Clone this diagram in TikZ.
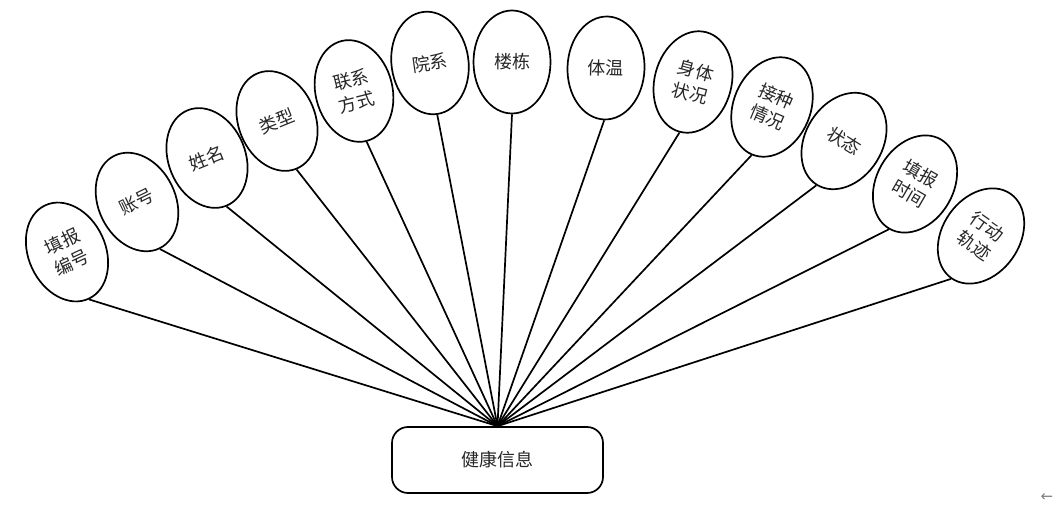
\documentclass[tikz,border=0pt]{standalone}
\usepackage{fontspec}
\newfontfamily\cjk{Noto Sans CJK SC}
\newfontfamily\dejavu{DejaVu Sans}
\usetikzlibrary{shapes.geometric}
\begin{document}
\begin{tikzpicture}[x=1pt,y=-1pt,
  attr/.style={draw, ellipse, line width=1.7pt, inner sep=0pt, minimum width=77pt, minimum height=103pt, font=\cjk\fontsize{18}{23}\selectfont, align=center, text=black!85},
  ent/.style={draw, rounded corners=16pt, line width=1.7pt, minimum width=211pt, minimum height=66pt, inner sep=0pt, font=\cjk\fontsize{18}{23}\selectfont, text=black!85},
  link/.style={line width=1.7pt}]
\useasboundingbox (0,0) rectangle (1056,510);
\node[ent] (hub) at (497.5,460) {健康信息};
\node[attr, rotate=25]  (a1)  at (67,252)  {填报\\编号};
\node[attr, rotate=26]  (a2)  at (137,202) {账号};
\node[attr, rotate=22]  (a3)  at (207,158) {姓名};
\node[attr, rotate=22]  (a4)  at (277,121) {类型};
\node[attr, rotate=14]  (a5)  at (354,91)  {联系\\方式};
\node[attr, rotate=8]   (a6)  at (430,63)  {院系};
\node[attr, rotate=0]   (a7)  at (512,62)  {楼栋};
\node[attr, rotate=-2]  (a8)  at (606,68)  {体温};
\node[attr, rotate=-15] (a9)  at (693,82)  {身体\\状况};
\node[attr, rotate=-23] (a10) at (772,107) {接种\\情况};
\node[attr, rotate=-32] (a11) at (844,141) {状态};
\node[attr, rotate=-30] (a12) at (915,184) {填报\\时间};
\node[attr, rotate=-35] (a13) at (981,236) {行动\\轨迹};
\foreach \i in {1,...,13} \draw[link] (a\i.south) -- (hub.north);
\node[text=gray, font=\dejavu\fontsize{15}{15}\selectfont, inner sep=0pt] (arr) at (1047,498) {←};
\end{tikzpicture}
\end{document}
